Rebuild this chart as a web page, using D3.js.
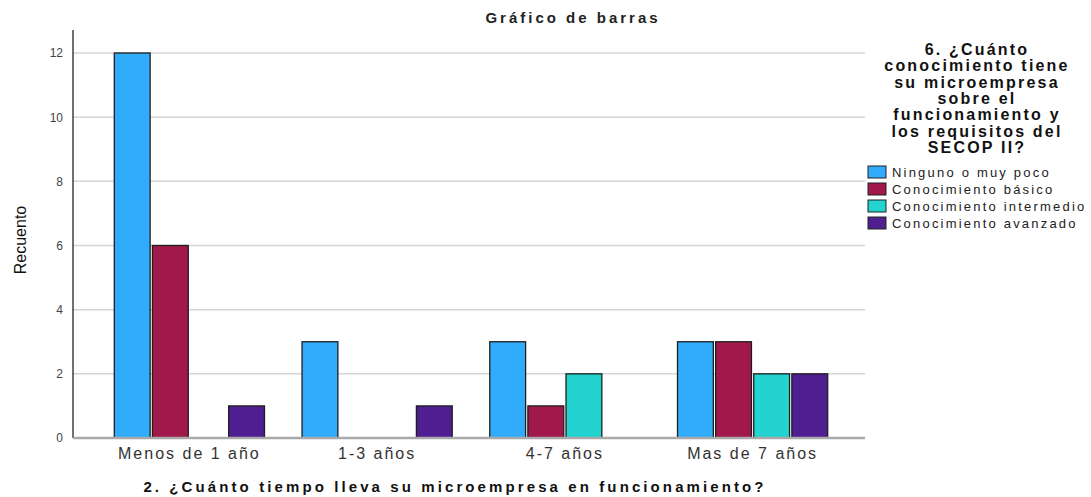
<!DOCTYPE html>
<html>
<head>
<meta charset="utf-8">
<title>Gráfico de barras</title>
<script src="https://cdn.jsdelivr.net/npm/d3@7"></script>
<style>
  body { margin: 0; background: #fff; }
  text { font-family: "Liberation Sans", Arial, sans-serif; }
</style>
</head>
<body>
<div id="chart"></div>
<script>
var categories = ["Menos de 1 año", "1-3 años", "4-7 años", "Mas de 7 años"];
var series = ["Ninguno o muy poco", "Conocimiento básico", "Conocimiento intermedio", "Conocimiento avanzado"];
var ninguno = [12, 3, 3, 3];
var basico = [6, 0, 1, 3];
var intermedio = [0, 0, 2, 2];
var avanzado = [1, 1, 0, 2];
var yTicks = [0, 2, 4, 6, 8, 10, 12];
var colors = ["#31acfc", "#a0194a", "#22d3cf", "#4f1e90"];
var legendTitle = ["6. ¿Cuánto", "conocimiento tiene", "su microempresa", "sobre el",
                   "funcionamiento y", "los requisitos del", "SECOP II?"];

var values = [ninguno, basico, intermedio, avanzado];

var width = 1091, height = 497;
var plotLeft = 73, plotRight = 865, plotTop = 53, plotBottom = 438;

var svg = d3.select("#chart")
    .append("svg")
    .attr("width", width)
    .attr("height", height);

var x0 = d3.scaleBand()
    .domain(categories)
    .range([plotLeft, plotRight + 4])
    .paddingInner(0.2)
    .paddingOuter(0.22);

var x1 = d3.scaleBand()
    .domain(series)
    .range([0, x0.bandwidth()])
    .paddingInner(0.06);

var y = d3.scaleLinear()
    .domain([0, 12])
    .range([plotBottom, plotTop]);

// grid lines
svg.append("g")
  .selectAll("line")
  .data(yTicks.slice(1))
  .enter()
  .append("line")
    .attr("x1", plotLeft)
    .attr("x2", plotRight)
    .attr("y1", function(d) { return y(d); })
    .attr("y2", function(d) { return y(d); })
    .attr("stroke", "#d6d6d6")
    .attr("stroke-width", 1.5);

// y axis
var yAxis = svg.append("g")
    .attr("transform", "translate(" + plotLeft + ",0)")
    .call(d3.axisLeft(y).tickValues(yTicks).tickSize(0).tickPadding(10));
yAxis.select(".domain").remove();
yAxis.selectAll("text")
    .attr("font-size", 12)
    .attr("fill", "#444");
svg.append("line")
    .attr("x1", plotLeft).attr("x2", plotLeft)
    .attr("y1", 30).attr("y2", plotBottom)
    .attr("stroke", "#111")
    .attr("stroke-width", 1.2);

// bars
var groups = svg.append("g")
  .selectAll("g")
  .data(categories)
  .enter()
  .append("g")
    .attr("transform", function(d) { return "translate(" + x0(d) + ",0)"; });

groups.selectAll("rect")
  .data(function(c, i) {
    return series.map(function(s, j) { return { key: s, value: values[j][i], idx: j }; })
      .filter(function(d) { return d.value > 0; });
  })
  .enter()
  .append("rect")
    .attr("x", function(d) { return x1(d.key); })
    .attr("y", function(d) { return y(d.value); })
    .attr("width", x1.bandwidth())
    .attr("height", function(d) { return plotBottom - y(d.value); })
    .attr("fill", function(d) { return colors[d.idx]; })
    .attr("stroke", "#1e1e1e")
    .attr("stroke-width", 1.3);

// x axis
var xAxis = svg.append("g")
    .attr("transform", "translate(0," + plotBottom + ")")
    .call(d3.axisBottom(x0).tickSize(0).tickPadding(10));
xAxis.select(".domain").remove();
xAxis.selectAll("text")
    .attr("font-size", 16)
    .attr("letter-spacing", "2px")
    .attr("fill", "#333");
svg.append("line")
    .attr("x1", plotLeft).attr("x2", plotRight)
    .attr("y1", plotBottom).attr("y2", plotBottom)
    .attr("stroke", "#a9a9a9")
    .attr("stroke-width", 2.5);

// titles
svg.append("text")
    .attr("x", 573).attr("y", 23)
    .attr("text-anchor", "middle")
    .attr("font-size", 15)
    .attr("font-weight", "bold")
    .attr("letter-spacing", "3px")
    .attr("fill", "#222")
    .text("Gráfico de barras");

svg.append("text")
    .attr("x", 455).attr("y", 492)
    .attr("text-anchor", "middle")
    .attr("font-size", 15)
    .attr("font-weight", "bold")
    .attr("letter-spacing", "3.1px")
    .attr("fill", "#111")
    .text("2. ¿Cuánto tiempo lleva su microempresa en funcionamiento?");

svg.append("text")
    .attr("transform", "translate(26,240) rotate(-90)")
    .attr("text-anchor", "middle")
    .attr("font-size", 16)
    .attr("fill", "#111")
    .text("Recuento");

// legend
var legend = svg.append("g");
legend.selectAll("text.title")
  .data(legendTitle)
  .enter()
  .append("text")
    .attr("class", "title")
    .attr("x", 977)
    .attr("y", function(d, i) { return 55 + i * 16.3; })
    .attr("text-anchor", "middle")
    .attr("font-size", 16)
    .attr("font-weight", "bold")
    .attr("letter-spacing", "2.2px")
    .attr("fill", "#111")
    .text(function(d) { return d; });

var items = legend.selectAll("g.item")
  .data(series)
  .enter()
  .append("g")
    .attr("class", "item")
    .attr("transform", function(d, i) { return "translate(868," + (166 + i * 17) + ")"; });

items.append("rect")
    .attr("width", 18)
    .attr("height", 12)
    .attr("fill", function(d, i) { return colors[i]; })
    .attr("stroke", "#222")
    .attr("stroke-width", 1);

items.append("text")
    .attr("x", 24)
    .attr("y", 11)
    .attr("font-size", 13)
    .attr("letter-spacing", "2.2px")
    .attr("fill", "#222")
    .text(function(d) { return d; });
</script>
</body>
</html>
